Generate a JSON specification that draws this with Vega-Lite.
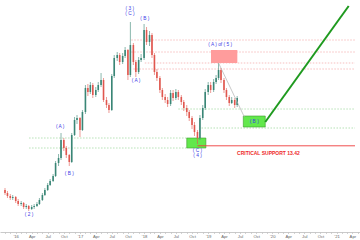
{
  "$schema": "https://vega.github.io/schema/vega-lite/v6.json",
  "width": 360,
  "height": 232,
  "padding": {"left": 0, "right": 0, "top": 0, "bottom": 8},
  "autosize": {"type": "none"},
  "background": "white",
  "config": {
    "view": {"stroke": null},
    "axis": {"domainColor": "#bdbdbd", "tickColor": "#b5b5b5", "tickSize": 1.5, "labelFontSize": 4.2, "labelColor": "#666666", "labelPadding": 0.8, "labelFont": "Liberation Sans", "grid": false, "labelOverlap": false, "domainWidth": 0.8, "tickWidth": 0.6}
  },
  "datasets": {
    "candles": [
      {"d": "2015-11-01", "o": 9.0, "h": 9.2, "l": 8.5, "c": 8.7},
      {"d": "2015-11-15", "o": 8.7, "h": 8.9, "l": 8.2, "c": 8.4},
      {"d": "2015-12-01", "o": 8.4, "h": 8.6, "l": 8.0, "c": 8.2},
      {"d": "2015-12-15", "o": 8.2, "h": 8.5, "l": 8.0, "c": 8.3},
      {"d": "2016-01-01", "o": 8.3, "h": 8.4, "l": 7.7, "c": 7.9},
      {"d": "2016-01-15", "o": 7.9, "h": 8.1, "l": 7.4, "c": 7.6},
      {"d": "2016-02-01", "o": 7.6, "h": 7.9, "l": 7.4, "c": 7.7},
      {"d": "2016-02-15", "o": 7.7, "h": 7.8, "l": 7.1, "c": 7.3},
      {"d": "2016-03-01", "o": 7.3, "h": 7.6, "l": 7.1, "c": 7.4},
      {"d": "2016-03-15", "o": 7.4, "h": 7.5, "l": 6.9, "c": 7.1},
      {"d": "2016-04-01", "o": 7.1, "h": 7.5, "l": 7.0, "c": 7.3},
      {"d": "2016-04-15", "o": 7.3, "h": 7.6, "l": 7.1, "c": 7.4},
      {"d": "2016-05-01", "o": 7.4, "h": 7.8, "l": 7.3, "c": 7.6},
      {"d": "2016-05-15", "o": 7.6, "h": 8.2, "l": 7.5, "c": 8.0},
      {"d": "2016-06-01", "o": 8.0, "h": 8.7, "l": 7.9, "c": 8.5},
      {"d": "2016-06-15", "o": 8.5, "h": 9.2, "l": 8.4, "c": 9.0},
      {"d": "2016-07-01", "o": 9.0, "h": 9.7, "l": 8.9, "c": 9.5},
      {"d": "2016-07-15", "o": 9.5, "h": 10.1, "l": 9.4, "c": 9.9},
      {"d": "2016-08-01", "o": 9.9, "h": 10.6, "l": 9.8, "c": 10.4},
      {"d": "2016-08-15", "o": 10.4, "h": 11.9, "l": 10.3, "c": 11.7},
      {"d": "2016-09-01", "o": 11.7, "h": 12.6, "l": 11.4, "c": 12.2},
      {"d": "2016-09-15", "o": 12.2, "h": 14.7, "l": 12.0, "c": 14.0},
      {"d": "2016-10-01", "o": 14.0, "h": 14.2, "l": 12.9, "c": 13.2},
      {"d": "2016-10-15", "o": 13.2, "h": 13.4, "l": 12.2, "c": 12.5},
      {"d": "2016-11-01", "o": 12.5, "h": 12.6, "l": 11.4, "c": 11.8},
      {"d": "2016-11-15", "o": 11.8, "h": 14.7, "l": 11.7, "c": 14.5},
      {"d": "2016-12-01", "o": 14.5, "h": 16.3, "l": 14.4, "c": 16.0},
      {"d": "2016-12-15", "o": 16.0, "h": 16.5, "l": 15.6, "c": 16.2},
      {"d": "2017-01-01", "o": 16.2, "h": 16.3, "l": 14.3, "c": 15.0},
      {"d": "2017-01-15", "o": 15.0, "h": 17.0, "l": 14.9, "c": 16.8},
      {"d": "2017-02-01", "o": 16.8, "h": 19.5, "l": 16.6, "c": 19.2},
      {"d": "2017-02-15", "o": 19.2, "h": 19.6, "l": 18.4, "c": 18.8},
      {"d": "2017-03-01", "o": 18.8, "h": 19.8, "l": 18.6, "c": 19.5},
      {"d": "2017-03-15", "o": 19.5, "h": 19.7, "l": 18.2, "c": 18.5},
      {"d": "2017-04-01", "o": 18.5, "h": 19.3, "l": 18.3, "c": 19.0},
      {"d": "2017-04-15", "o": 19.0, "h": 19.8, "l": 18.8, "c": 19.5},
      {"d": "2017-05-01", "o": 19.5, "h": 20.7, "l": 19.3, "c": 20.0},
      {"d": "2017-05-15", "o": 20.0, "h": 20.2, "l": 17.8, "c": 18.0},
      {"d": "2017-06-01", "o": 18.0, "h": 18.3, "l": 17.2, "c": 17.5},
      {"d": "2017-06-15", "o": 17.5, "h": 17.7, "l": 16.7, "c": 17.0},
      {"d": "2017-07-01", "o": 17.0, "h": 20.6, "l": 16.9, "c": 20.4},
      {"d": "2017-07-15", "o": 20.4, "h": 22.5, "l": 20.2, "c": 22.2},
      {"d": "2017-08-01", "o": 22.2, "h": 22.8, "l": 21.9, "c": 22.5},
      {"d": "2017-08-15", "o": 22.5, "h": 22.7, "l": 21.5, "c": 21.8},
      {"d": "2017-09-01", "o": 21.8, "h": 22.7, "l": 21.6, "c": 22.4},
      {"d": "2017-09-15", "o": 22.4, "h": 23.3, "l": 22.2, "c": 23.0},
      {"d": "2017-10-01", "o": 23.0, "h": 23.1, "l": 20.0, "c": 20.5},
      {"d": "2017-10-15", "o": 20.5, "h": 25.8, "l": 20.3, "c": 23.5},
      {"d": "2017-11-01", "o": 23.5, "h": 23.7, "l": 21.5, "c": 21.8},
      {"d": "2017-11-15", "o": 21.8, "h": 22.0, "l": 20.3, "c": 20.8},
      {"d": "2017-12-01", "o": 20.8, "h": 22.3, "l": 20.6, "c": 22.0},
      {"d": "2017-12-15", "o": 22.0, "h": 22.6, "l": 21.8, "c": 22.2},
      {"d": "2018-01-01", "o": 22.2, "h": 25.6, "l": 22.0, "c": 25.0},
      {"d": "2018-01-15", "o": 25.0, "h": 25.3, "l": 23.5, "c": 23.8},
      {"d": "2018-02-01", "o": 23.8, "h": 24.9, "l": 23.4, "c": 24.5},
      {"d": "2018-02-15", "o": 24.5, "h": 24.7, "l": 22.2, "c": 22.5},
      {"d": "2018-03-01", "o": 22.5, "h": 22.7, "l": 20.5, "c": 20.8},
      {"d": "2018-03-15", "o": 20.8, "h": 21.1, "l": 19.9, "c": 20.2},
      {"d": "2018-04-01", "o": 20.2, "h": 20.4, "l": 18.7, "c": 19.0},
      {"d": "2018-04-15", "o": 19.0, "h": 19.2, "l": 18.0, "c": 18.3},
      {"d": "2018-05-01", "o": 18.3, "h": 18.6, "l": 17.7, "c": 18.0},
      {"d": "2018-05-15", "o": 18.0, "h": 18.3, "l": 17.3, "c": 17.6},
      {"d": "2018-06-01", "o": 17.6, "h": 19.0, "l": 17.4, "c": 18.7},
      {"d": "2018-06-15", "o": 18.7, "h": 19.0, "l": 17.9, "c": 18.2},
      {"d": "2018-07-01", "o": 18.2, "h": 19.1, "l": 18.0, "c": 18.8},
      {"d": "2018-07-15", "o": 18.8, "h": 19.0, "l": 18.0, "c": 18.3},
      {"d": "2018-08-01", "o": 18.3, "h": 18.5, "l": 17.5, "c": 17.8},
      {"d": "2018-08-15", "o": 17.8, "h": 18.0, "l": 16.9, "c": 17.2},
      {"d": "2018-09-01", "o": 17.2, "h": 17.5, "l": 16.4, "c": 16.8},
      {"d": "2018-09-15", "o": 16.8, "h": 17.0, "l": 15.9, "c": 16.2},
      {"d": "2018-10-01", "o": 16.2, "h": 16.4, "l": 15.1, "c": 15.5},
      {"d": "2018-10-15", "o": 15.5, "h": 15.8, "l": 14.4, "c": 14.8},
      {"d": "2018-11-01", "o": 14.8, "h": 15.0, "l": 13.6, "c": 14.2},
      {"d": "2018-11-15", "o": 14.2, "h": 16.5, "l": 14.0, "c": 16.2},
      {"d": "2018-12-01", "o": 16.2, "h": 17.5, "l": 16.0, "c": 17.2},
      {"d": "2018-12-15", "o": 17.2, "h": 19.1, "l": 17.0, "c": 18.8},
      {"d": "2019-01-01", "o": 18.8, "h": 19.8, "l": 18.5, "c": 19.5},
      {"d": "2019-01-15", "o": 19.5, "h": 19.8, "l": 18.7, "c": 19.0},
      {"d": "2019-02-01", "o": 19.0, "h": 20.1, "l": 18.8, "c": 19.8},
      {"d": "2019-02-15", "o": 19.8, "h": 20.5, "l": 19.6, "c": 20.2},
      {"d": "2019-03-01", "o": 20.2, "h": 21.7, "l": 20.0, "c": 21.0},
      {"d": "2019-03-15", "o": 21.0, "h": 21.2, "l": 19.7, "c": 20.0},
      {"d": "2019-04-01", "o": 20.0, "h": 20.2, "l": 18.7, "c": 19.0},
      {"d": "2019-04-15", "o": 19.0, "h": 19.2, "l": 18.0, "c": 18.3},
      {"d": "2019-05-01", "o": 18.3, "h": 18.5, "l": 17.4, "c": 17.7},
      {"d": "2019-05-15", "o": 17.7, "h": 18.3, "l": 17.6, "c": 18.0},
      {"d": "2019-06-01", "o": 18.0, "h": 18.2, "l": 17.2, "c": 17.5},
      {"d": "2019-06-15", "o": 17.5, "h": 18.4, "l": 17.3, "c": 18.2}
    ],
    "redLevels": [
      {"d": "2017-10-20", "d2": "2021-04-16", "p": 24.0},
      {"d": "2017-10-20", "d2": "2021-04-16", "p": 22.8},
      {"d": "2018-01-05", "d2": "2021-04-16", "p": 21.7},
      {"d": "2017-11-01", "d2": "2021-04-16", "p": 21.1}
    ],
    "greenLevels": [
      {"d": "2018-07-15", "d2": "2021-04-16", "p": 17.1},
      {"d": "2018-11-24", "d2": "2021-04-16", "p": 15.2},
      {"d": "2016-03-17", "d2": "2018-09-01", "p": 14.2},
      {"d": "2016-03-17", "d2": "2018-09-01", "p": 13.2}
    ],
    "greenBoxes": [
      {"d": "2018-09-01", "d2": "2018-12-19", "p": 14.2, "p2": 13.2},
      {"d": "2019-07-20", "d2": "2019-11-22", "p": 16.4, "p2": 15.3}
    ],
    "redBoxes": [
      {"d": "2019-01-17", "d2": "2019-06-16", "p": 23.0, "p2": 21.7}
    ],
    "support": [
      {"d": "2018-11-01", "d2": "2021-04-16", "p": 13.42}
    ],
    "grayPath": [
      {"d": "2019-03-01", "d2": "2019-07-26", "p": 21.7, "p2": 16.3}
    ],
    "projection": [
      {"d": "2019-11-22", "d2": "2021-03-11", "p": 15.8, "p2": 27.4}
    ],
    "waveLabels": [
      {"d": "2017-10-12", "p": 27.1, "t": "( 3 )"},
      {"d": "2017-10-12", "p": 26.6, "t": "( C )"},
      {"d": "2018-01-05", "p": 26.1, "t": "( B )"},
      {"d": "2017-11-16", "p": 19.9, "t": "( A )"},
      {"d": "2016-09-10", "p": 15.3, "t": "( A )"},
      {"d": "2016-11-01", "p": 10.6, "t": "( B )"},
      {"d": "2016-03-17", "p": 6.5, "t": "( 2 )"},
      {"d": "2018-11-01", "p": 12.9, "t": "( C )"},
      {"d": "2018-11-01", "p": 12.4, "t": "( 4 )"},
      {"d": "2019-03-10", "p": 23.5, "t": "( A ) of ( 5 )"},
      {"d": "2019-09-20", "p": 15.85, "t": "( B )"}
    ],
    "supportLabel": [
      {"d": "2019-12-10", "p": 12.7, "t": "CRITICAL SUPPORT 13.42"}
    ]
  },
  "layer": [
    {
      "data": {"name": "redLevels"},
      "mark": {"type": "rule", "stroke": "#f3a5a5", "strokeWidth": 0.7, "strokeDash": [1.5, 1.5]},
      "encoding": {
        "x": {"field": "d", "type": "temporal", "scale": {"type": "utc", "nice": false, "domain": [{"year": 2015, "month": 11, "date": 1, "utc": true}, {"year": 2021, "month": 4, "date": 16, "utc": true}]},
          "title": null,
          "axis": {"tickCount": {"interval": "month", "step": 1}, "labelExpr": "utcmonth(datum.value) % 3 != 0 ? '' : (utcmonth(datum.value) == 0 ? \"'\" + utcFormat(datum.value, '%y') : utcFormat(datum.value, '%b'))"}},
        "x2": {"field": "d2"},
        "y": {"field": "p", "type": "quantitative", "scale": {"domain": [4.8, 28.0], "nice": false, "zero": false}, "axis": null}
      }
    },
    {
      "data": {"name": "greenLevels"},
      "mark": {"type": "rule", "stroke": "#97d497", "strokeWidth": 0.7, "strokeDash": [1.5, 1.5]},
      "encoding": {
        "x": {"field": "d", "type": "temporal", "scale": {"type": "utc"}},
        "x2": {"field": "d2"},
        "y": {"field": "p", "type": "quantitative"}
      }
    },
    {
      "data": {"name": "greenBoxes"},
      "mark": {"type": "rect", "fill": "#62e84c", "stroke": "#3c9a2c", "strokeWidth": 0.6},
      "encoding": {
        "x": {"field": "d", "type": "temporal", "scale": {"type": "utc"}},
        "x2": {"field": "d2"},
        "y": {"field": "p", "type": "quantitative"},
        "y2": {"field": "p2"}
      }
    },
    {
      "data": {"name": "redBoxes"},
      "mark": {"type": "rect", "fill": "#ff9c9c"},
      "encoding": {
        "x": {"field": "d", "type": "temporal", "scale": {"type": "utc"}},
        "x2": {"field": "d2"},
        "y": {"field": "p", "type": "quantitative"},
        "y2": {"field": "p2"}
      }
    },
    {
      "data": {"name": "support"},
      "mark": {"type": "rule", "stroke": "#ee3b3b", "strokeWidth": 0.9},
      "encoding": {
        "x": {"field": "d", "type": "temporal", "scale": {"type": "utc"}},
        "x2": {"field": "d2"},
        "y": {"field": "p", "type": "quantitative"}
      }
    },
    {
      "data": {"name": "candles"},
      "mark": {"type": "rule", "strokeWidth": 0.6},
      "encoding": {
        "x": {"field": "d", "type": "temporal", "scale": {"type": "utc"}},
        "y": {"field": "l", "type": "quantitative"},
        "y2": {"field": "h"},
        "color": {"condition": {"test": "datum.o < datum.c", "value": "#3a8676"}, "value": "#e0574f"}
      }
    },
    {
      "data": {"name": "candles"},
      "mark": {"type": "bar", "size": 1.6},
      "encoding": {
        "x": {"field": "d", "type": "temporal", "scale": {"type": "utc"}},
        "y": {"field": "o", "type": "quantitative"},
        "y2": {"field": "c"},
        "color": {"condition": {"test": "datum.o < datum.c", "value": "#3a8676"}, "value": "#e0574f"}
      }
    },
    {
      "data": {"name": "grayPath"},
      "mark": {"type": "rule", "stroke": "#b0b0b0", "strokeWidth": 0.7},
      "encoding": {
        "x": {"field": "d", "type": "temporal", "scale": {"type": "utc"}},
        "x2": {"field": "d2"},
        "y": {"field": "p", "type": "quantitative"},
        "y2": {"field": "p2"}
      }
    },
    {
      "data": {"name": "projection"},
      "mark": {"type": "rule", "stroke": "#1f9a1f", "strokeWidth": 2},
      "encoding": {
        "x": {"field": "d", "type": "temporal", "scale": {"type": "utc"}},
        "x2": {"field": "d2"},
        "y": {"field": "p", "type": "quantitative"},
        "y2": {"field": "p2"}
      }
    },
    {
      "data": {"name": "waveLabels"},
      "mark": {"type": "text", "fontSize": 4.8, "font": "Liberation Sans", "fill": "#3b3be6", "baseline": "middle", "align": "center"},
      "encoding": {
        "x": {"field": "d", "type": "temporal", "scale": {"type": "utc"}},
        "y": {"field": "p", "type": "quantitative"},
        "text": {"field": "t"}
      }
    },
    {
      "data": {"name": "supportLabel"},
      "mark": {"type": "text", "fontSize": 5, "fontWeight": "bold", "font": "Liberation Sans", "fill": "#ee2a2a", "baseline": "middle", "align": "center"},
      "encoding": {
        "x": {"field": "d", "type": "temporal", "scale": {"type": "utc"}},
        "y": {"field": "p", "type": "quantitative"},
        "text": {"field": "t"}
      }
    }
  ]
}
